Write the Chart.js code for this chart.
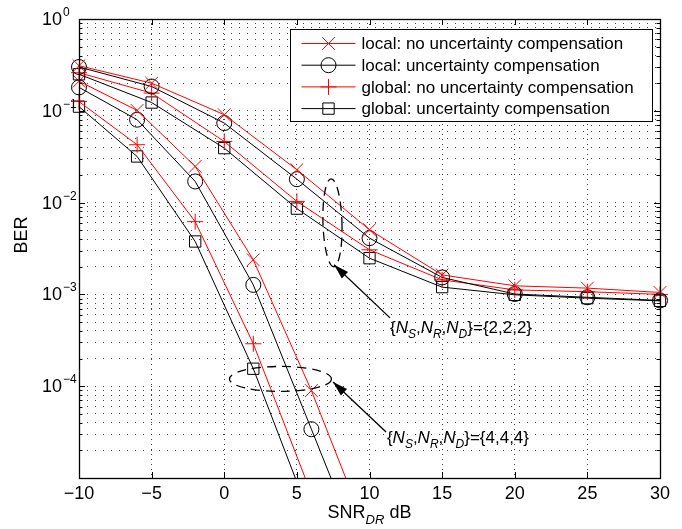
<!DOCTYPE html>
<html>
<head>
<meta charset="utf-8">
<script src="https://cdn.jsdelivr.net/npm/chart.js@4.4.1/dist/chart.umd.min.js"></script>
<style>
    html, body { margin: 0; padding: 0; background: #fff; }
    #wrap { width: 682px; height: 529px; }
</style>
</head>
<body>
<div id="wrap"><canvas id="ber-chart" width="682" height="529"></canvas></div>
<script>
(function() {
    'use strict';

    // SNR points (dB)
    const snrCoarse = [-10, -5, 0, 5, 10, 15, 20, 25, 30];   // {2,2,2}
    const snrFine = [-10, -6, -2, 2, 6, 10];                  // {4,4,4}

    // {N_S,N_R,N_D} = {2,2,2}
    const local222NoComp  = [0.31, 0.20, 0.0906, 0.0228, 0.00506, 0.00163, 0.00124, 0.00117, 0.00105];
    const local222Comp    = [0.30, 0.184, 0.0735, 0.018, 0.0041, 0.00153, 0.00101, 0.00093, 0.00086];
    const global222NoComp = [0.26, 0.156, 0.0463, 0.0103, 0.00306, 0.00144, 0.00112, 0.00107, 0.0010];
    const global222Comp   = [0.25, 0.123, 0.0392, 0.0086, 0.00248, 0.0012, 0.00099, 0.00091, 0.00085];

    // {N_S,N_R,N_D} = {4,4,4} (last points fall below the axis)
    const local444NoComp  = [0.21, 0.101, 0.0248, 0.00238, 8.95e-5, 2.2e-6];
    const local444Comp    = [0.18, 0.080, 0.017, 0.00127, 3.4e-5, 9e-7];
    const global444NoComp = [0.126, 0.0427, 0.0062, 0.00029, 6.7e-6];
    const global444Comp   = [0.111, 0.0318, 0.00377, 0.000155, 3.5e-6];

    const seriesLabels = [
        'local: no uncertainty compensation',
        'local: uncertainty compensation',
        'global: no uncertainty compensation',
        'global: uncertainty compensation'
    ];

    const xTicks = [-10, -5, 0, 5, 10, 15, 20, 25, 30];
    const yDecades = [1e-5, 1e-4, 1e-3, 1e-2, 1e-1, 1e0];
    const yLabelValues = [1e-4, 1e-3, 1e-2, 1e-1, 1e0];
    const yExponents = ['\u22124', '\u22123', '\u22122', '\u22121', '0'];

    const FONT = "'Liberation Sans', Arial, Helvetica, sans-serif";
    const RED = '#ff0000';
    const BLACK = '#000000';

    const styles = [
        { color: RED,   pointStyle: 'crossRot', radius: 9 },
        { color: BLACK, pointStyle: 'circle',   radius: 7.5 },
        { color: RED,   pointStyle: 'cross',    radius: 8 },
        { color: BLACK, pointStyle: 'rect',     radius: 8 }
    ];

    function pairs(xs, ys) {
        return ys.map((v, i) => ({ x: xs[i], y: v }));
    }

    function makeDataset(idx, xs, ys) {
        const s = styles[idx];
        return {
            label: seriesLabels[idx],
            data: pairs(xs, ys),
            borderColor: s.color,
            borderWidth: 1,
            pointStyle: s.pointStyle,
            pointRadius: s.radius,
            pointHoverRadius: s.radius,
            pointBorderColor: s.color,
            pointBorderWidth: 1,
            pointBackgroundColor: 'rgba(0,0,0,0)',
            tension: 0,
            clip: { left: 20, right: 20, top: 20, bottom: 0 }
        };
    }

    const datasets = [
        makeDataset(0, snrCoarse, local222NoComp),
        makeDataset(1, snrCoarse, local222Comp),
        makeDataset(2, snrCoarse, global222NoComp),
        makeDataset(3, snrCoarse, global222Comp),
        makeDataset(0, snrFine, local444NoComp),
        makeDataset(1, snrFine, local444Comp),
        makeDataset(2, snrFine, global444NoComp),
        makeDataset(3, snrFine, global444Comp)
    ];

    // grid values: 1..9 x each decade
    const yGrid = [];
    for (let e = -5; e <= 0; e++) {
        for (let m = 1; m <= 9; m++) {
            const v = m * Math.pow(10, e);
            if (v <= 1) yGrid.push(v);
        }
    }

    function drawRich(ctx, x, yMid, parts, size) {
        let cx = x;
        parts.forEach(p => {
            const fs = p.sub ? Math.round(size * 0.72) : size;
            ctx.font = (p.it ? 'italic ' : '') + fs + 'px ' + FONT;
            ctx.textBaseline = 'alphabetic';
            const base = yMid + size * 0.36 + (p.sub ? size * 0.3 : 0);
            ctx.fillText(p.t, cx, base);
            cx += ctx.measureText(p.t).width;
        });
    }

    function nsLabel(n) {
        return [
            { t: '{' }, { t: 'N', it: true }, { t: 'S', it: true, sub: true }, { t: ',' },
            { t: 'N', it: true }, { t: 'R', it: true, sub: true }, { t: ',' },
            { t: 'N', it: true }, { t: 'D', it: true, sub: true }, { t: '}={' + n + ',' + n + ',' + n + '}' }
        ];
    }

    function arrow(ctx, x0, y0, x1, y1) {
        ctx.beginPath();
        ctx.moveTo(x0, y0);
        ctx.lineTo(x1, y1);
        ctx.stroke();
        const ang = Math.atan2(y1 - y0, x1 - x0);
        const len = 15, half = 4.5;
        const bx = x1 - len * Math.cos(ang), by = y1 - len * Math.sin(ang);
        ctx.beginPath();
        ctx.moveTo(x1, y1);
        ctx.lineTo(bx + half * Math.sin(ang), by - half * Math.cos(ang));
        ctx.lineTo(bx - half * Math.sin(ang), by + half * Math.cos(ang));
        ctx.closePath();
        ctx.fill();
    }

    const decor = {
        id: 'decor',
        afterDraw(chart) {
            const { ctx, chartArea: a } = chart;
            const xs = chart.scales.x, ys = chart.scales.y;
            ctx.save();
            ctx.strokeStyle = BLACK;
            ctx.fillStyle = BLACK;
            ctx.lineWidth = 1;

            // inward ticks
            ctx.beginPath();
            yGrid.forEach(v => {
                const py = Math.round(ys.getPixelForValue(v)) + 0.5;
                const len = yDecades.includes(v) ? 6 : 3.5;
                ctx.moveTo(a.left, py); ctx.lineTo(a.left + len, py);
                ctx.moveTo(a.right, py); ctx.lineTo(a.right - len, py);
            });
            xTicks.forEach(v => {
                const px = Math.round(xs.getPixelForValue(v)) + 0.5;
                ctx.moveTo(px, a.bottom); ctx.lineTo(px, a.bottom - 6);
                ctx.moveTo(px, a.top); ctx.lineTo(px, a.top + 6);
            });
            ctx.stroke();

            // axes box
            ctx.lineWidth = 1.3;
            ctx.strokeRect(Math.round(a.left) + 0.5, Math.round(a.top) + 0.5,
                Math.round(a.right - a.left), Math.round(a.bottom - a.top));

            // y tick labels 10^k
            yLabelValues.forEach((v, i) => {
                const py = ys.getPixelForValue(v);
                ctx.font = '18px ' + FONT;
                ctx.textBaseline = 'middle';
                ctx.textAlign = 'left';
                ctx.fillText('10', 42, py + 1);
                const w = ctx.measureText('10').width;
                ctx.font = '12px ' + FONT;
                ctx.textBaseline = 'alphabetic';
                ctx.fillText(yExponents[i], 42 + w + 1, py - 3);
            });

            // axis titles
            ctx.save();
            ctx.translate(22, 235);
            ctx.rotate(-Math.PI / 2);
            ctx.font = '18px ' + FONT;
            ctx.textAlign = 'center';
            ctx.textBaseline = 'middle';
            ctx.fillText('BER', 0, 0);
            ctx.restore();

            ctx.textAlign = 'left';
            const tParts = [{ t: 'SNR' }, { t: 'DR', it: true, sub: true }, { t: ' dB' }];
            let tw = 0;
            tParts.forEach(p => {
                ctx.font = (p.it ? 'italic ' : '') + (p.sub ? 13 : 18) + 'px ' + FONT;
                tw += ctx.measureText(p.t).width;
            });
            drawRich(ctx, (a.left + a.right) / 2 - tw / 2, 512, tParts, 18);

            // annotations (dashed ellipses + arrows + labels)
            ctx.setLineDash([9, 6]);
            ctx.beginPath();
            ctx.ellipse(xs.getPixelForValue(7.45), ys.getPixelForValue(0.00603), 9.5, 44, -0.03, 0, Math.PI * 2);
            ctx.stroke();
            ctx.beginPath();
            ctx.ellipse(xs.getPixelForValue(3.87), ys.getPixelForValue(1.2e-4), 51, 12.5, 0, 0, Math.PI * 2);
            ctx.stroke();
            ctx.setLineDash([]);

            arrow(ctx, xs.getPixelForValue(11.41), ys.getPixelForValue(5.55e-4),
                xs.getPixelForValue(7.56), ys.getPixelForValue(2.1e-3));
            arrow(ctx, xs.getPixelForValue(11.14), ys.getPixelForValue(3.17e-5),
                xs.getPixelForValue(7.49), ys.getPixelForValue(1.11e-4));

            drawRich(ctx, xs.getPixelForValue(11.41), ys.getPixelForValue(4.43e-4), nsLabel(2), 17);
            drawRich(ctx, xs.getPixelForValue(11.2), ys.getPixelForValue(2.8e-5), nsLabel(4), 17);

            // legend
            const lw = 362, lh = 92;
            const lx = Math.round(a.right - 8 - lw) + 0.5, ly = Math.round(a.top + 10) + 0.5;
            ctx.fillStyle = '#fff';
            ctx.fillRect(lx, ly, lw, lh);
            ctx.strokeStyle = BLACK;
            ctx.lineWidth = 1;
            ctx.strokeRect(lx, ly, lw, lh);
            seriesLabels.forEach((label, i) => {
                const s = styles[i];
                const ry = ly + 14 + i * 21.7;
                ctx.strokeStyle = s.color;
                ctx.fillStyle = 'rgba(0,0,0,0)';
                ctx.lineWidth = 1;
                ctx.beginPath();
                ctx.moveTo(lx + 11, ry); ctx.lineTo(lx + 65, ry);
                ctx.stroke();
                Chart.helpers.drawPoint(ctx, { pointStyle: s.pointStyle, radius: s.radius, borderWidth: 1, rotation: 0 }, lx + 38, ry);
                ctx.fillStyle = BLACK;
                ctx.font = '17px ' + FONT;
                ctx.textBaseline = 'middle';
                ctx.fillText(label, lx + 71, ry + 1);
            });

            ctx.restore();
        }
    };

    const ctx = document.getElementById('ber-chart');
    new Chart(ctx, {
        type: 'line',
        data: { datasets: datasets },
        options: {
            responsive: false,
            animation: false,
            devicePixelRatio: 1,
            layout: { padding: { top: 19, right: 22, left: 0, bottom: 0 } },
            plugins: {
                legend: { display: false },
                tooltip: { enabled: false }
            },
            scales: {
                x: {
                    type: 'linear',
                    min: -10,
                    max: 30,
                    afterBuildTicks: scale => { scale.ticks = xTicks.map(v => ({ value: v })); },
                    afterFit: scale => { scale.height = 51; },
                    border: { display: false, dash: [1, 4] },
                    grid: {
                        color: 'rgba(0,0,0,0.75)',
                        lineWidth: 1,
                        drawTicks: false,
                        tickLength: 0
                    },
                    ticks: {
                        color: BLACK,
                        padding: 5,
                        maxRotation: 0,
                        font: { family: FONT, size: 18 },
                        callback: v => (v < 0 ? '\u2212' + Math.abs(v) : String(v))
                    }
                },
                y: {
                    type: 'logarithmic',
                    min: 1e-5,
                    max: 1,
                    afterBuildTicks: scale => { scale.ticks = yGrid.map(v => ({ value: v })); },
                    afterFit: scale => { scale.width = 79; },
                    border: { display: false, dash: [1, 7] },
                    grid: {
                        color: 'rgba(0,0,0,0.75)',
                        lineWidth: 1,
                        drawTicks: false,
                        tickLength: 0
                    },
                    ticks: { display: false }
                }
            }
        },
        plugins: [decor]
    });
})();
</script>
</body>
</html>
